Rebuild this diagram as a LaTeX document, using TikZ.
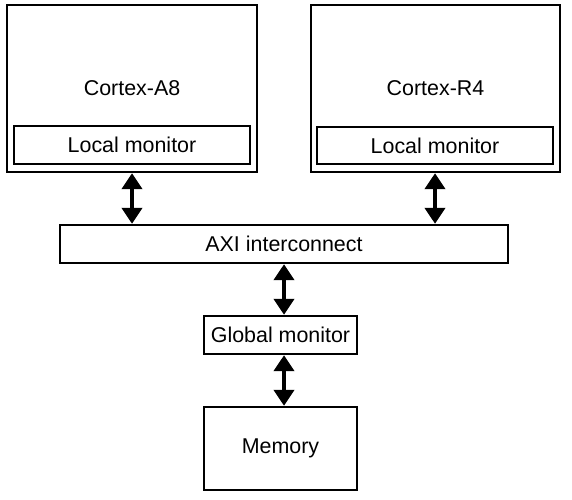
\documentclass[tikz,border=0pt]{standalone}
\usepackage{fontspec}
\setmainfont{Liberation Sans}
\usetikzlibrary{arrows.meta}
\begin{document}
\begin{tikzpicture}[x=1bp,y=-1bp,
  box/.style={draw=black,line width=1.2bp,inner sep=0pt,font=\fontsize{21.5}{25}\selectfont},
  biarrow/.style={line width=4.5bp,{Triangle[width=20bp,length=16bp]}-{Triangle[width=20bp,length=16bp]},shorten <=0.6bp,shorten >=0.6bp}]
\useasboundingbox (0,0) rectangle (572,500);
\node[box,minimum width=250bp,minimum height=167bp] (a8) at (132,88.5) {Cortex-A8};
\node[box,minimum width=236bp,minimum height=38bp] (lma) at (132,145) {Local monitor};
\node[box,minimum width=249bp,minimum height=167bp] (r4) at (435.5,88.5) {Cortex-R4};
\node[box,minimum width=236bp,minimum height=37bp] (lmb) at (435,145.5) {Local monitor};
\node[box,minimum width=448bp,minimum height=38bp] (axi) at (284,244) {AXI interconnect};
\node[box,minimum width=153bp,minimum height=38bp] (gm) at (280.5,335) {Global monitor};
\node[box,minimum width=153bp,minimum height=83bp] (mem) at (280.5,448.5) {Memory};
\draw[biarrow] (a8.south -| lma.center) -- (axi.north -| lma.center);
\draw[biarrow] (r4.south -| lmb.center) -- (axi.north -| lmb.center);
\draw[biarrow] (axi.south) -- (gm.north -| axi.south);
\draw[biarrow] (gm.south -| axi.south) -- (mem.north -| axi.south);
\end{tikzpicture}
\end{document}
